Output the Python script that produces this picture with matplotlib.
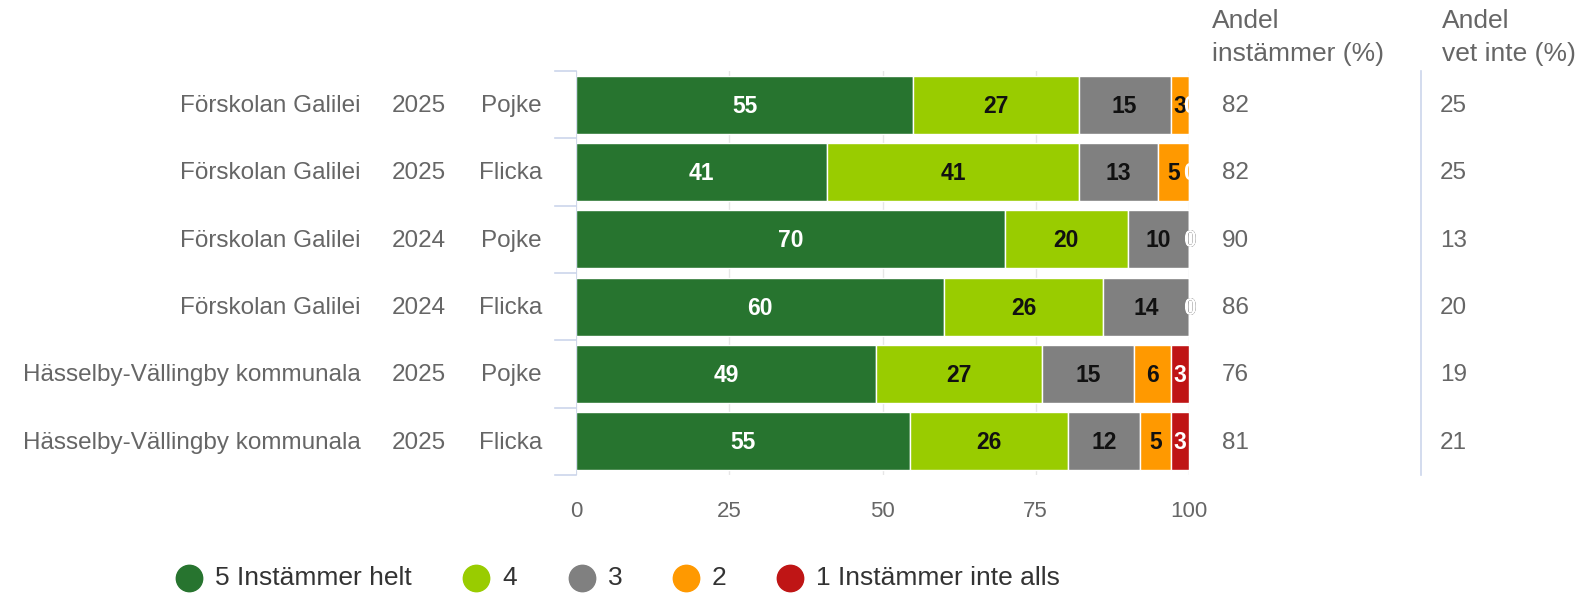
import matplotlib.pyplot as plt
from matplotlib.transforms import blended_transform_factory
from matplotlib.lines import Line2D

plt.rcParams['font.family'] = ['Liberation Sans', 'DejaVu Sans']

schools = ['Förskolan Galilei', 'Förskolan Galilei', 'Förskolan Galilei', 'Förskolan Galilei',
           'Hässelby-Vällingby kommunala', 'Hässelby-Vällingby kommunala']
years = ['2025', '2025', '2024', '2024', '2025', '2025']
genders = ['Pojke', 'Flicka', 'Pojke', 'Flicka', 'Pojke', 'Flicka']

s5 = [55, 41, 70, 60, 49, 55]
s4 = [27, 41, 20, 26, 27, 26]
s3 = [15, 13, 10, 14, 15, 12]
s2 = [3, 5, 0, 0, 6, 5]
s1 = [0, 0, 0, 0, 3, 3]

andel_instammer = [82, 82, 90, 86, 76, 81]
andel_vet_inte = [25, 25, 13, 20, 19, 21]

series = [s5, s4, s3, s2, s1]
names = ['5 Instämmer helt', '4', '3', '2', '1 Instämmer inte alls']
colors = ['#27742f', '#99cc00', '#808080', '#ff9900', '#bf1515']
label_colors = ['white', '#111111', '#111111', '#111111', 'white']

W, H = 1584, 593
fig = plt.figure(figsize=(W / 100, H / 100), dpi=100)
x0, x1, y0, y1 = 576, 1189, 71, 475
ax = fig.add_axes([x0 / W, 1 - y1 / H, (x1 - x0) / W, (y1 - y0) / H])

n = len(schools)
ypos = list(range(n))
totals = [sum(s[i] for s in series) for i in range(n)]

left = [0.0] * n
for k, s in enumerate(series):
    widths = [s[i] * 100 / totals[i] for i in range(n)]
    ax.barh(ypos, widths, left=left, height=0.86, color=colors[k],
            edgecolor='white', linewidth=1, zorder=3)
    for i in range(n):
        ax.text(left[i] + widths[i] / 2, i + 0.02, str(s[i]), ha='center', va='center',
                color=label_colors[k], fontsize=16.5, fontweight='bold', zorder=4)
    left = [left[i] + widths[i] for i in range(n)]

ax.set_xlim(0, 100)
ax.set_ylim(n - 0.5, -0.5)
ax.set_xticks([0, 25, 50, 75, 100])
ax.tick_params(axis='x', length=0, labelsize=16, labelcolor='#666666', pad=19)
ax.set_yticks([])
for sp in ax.spines.values():
    sp.set_visible(False)
ax.grid(axis='x', color='#e6e6e6', linewidth=1, zorder=0)
ax.axvline(0, color='#ccd6eb', linewidth=1.2, zorder=5)

# category ticks on the left
for b in [i - 0.5 for i in range(n + 1)]:
    ax.plot([-3.5, 0], [b, b], color='#ccd6eb', linewidth=1.2, clip_on=False, zorder=5)

tr = blended_transform_factory(fig.transFigure, ax.transData)
txt = dict(transform=tr, va='center', fontsize=17.5, color='#666666')
for i in range(n):
    ax.text(361 / W, i + 0.02, schools[i], ha='right', **txt)
    ax.text(446 / W, i + 0.02, years[i], ha='right', **txt)
    ax.text(542 / W, i + 0.02, genders[i], ha='right', **txt)
    ax.text(1222 / W, i + 0.02, str(andel_instammer[i]), ha='left', **txt)
    ax.text(1440 / W, i + 0.02, str(andel_vet_inte[i]), ha='left', **txt)

# column headers
hdr = dict(ha='left', va='center', fontsize=19, color='#666666')
fig.text(1212 / W, 1 - 21 / H, 'Andel', **hdr)
fig.text(1212 / W, 1 - 54 / H, 'instämmer (%)', **hdr)
fig.text(1442 / W, 1 - 21 / H, 'Andel', **hdr)
fig.text(1442 / W, 1 - 54 / H, 'vet inte (%)', **hdr)

fig.add_artist(Line2D([1421 / W, 1421 / W], [1 - 71 / H, 1 - 475 / H], color='#ccd6eb', linewidth=1.2))

# legend
leg_dot = [189, 476, 582, 686, 790]
for k in range(5):
    fig.add_artist(Line2D([leg_dot[k] / W], [1 - 578 / H], marker='o', markersize=19,
                          color=colors[k], linestyle='none'))
    fig.text((leg_dot[k] + 26) / W, 1 - 578 / H, names[k], ha='left', va='center',
             fontsize=19, color='#333333')

fig.savefig('out.png', dpi=100)
